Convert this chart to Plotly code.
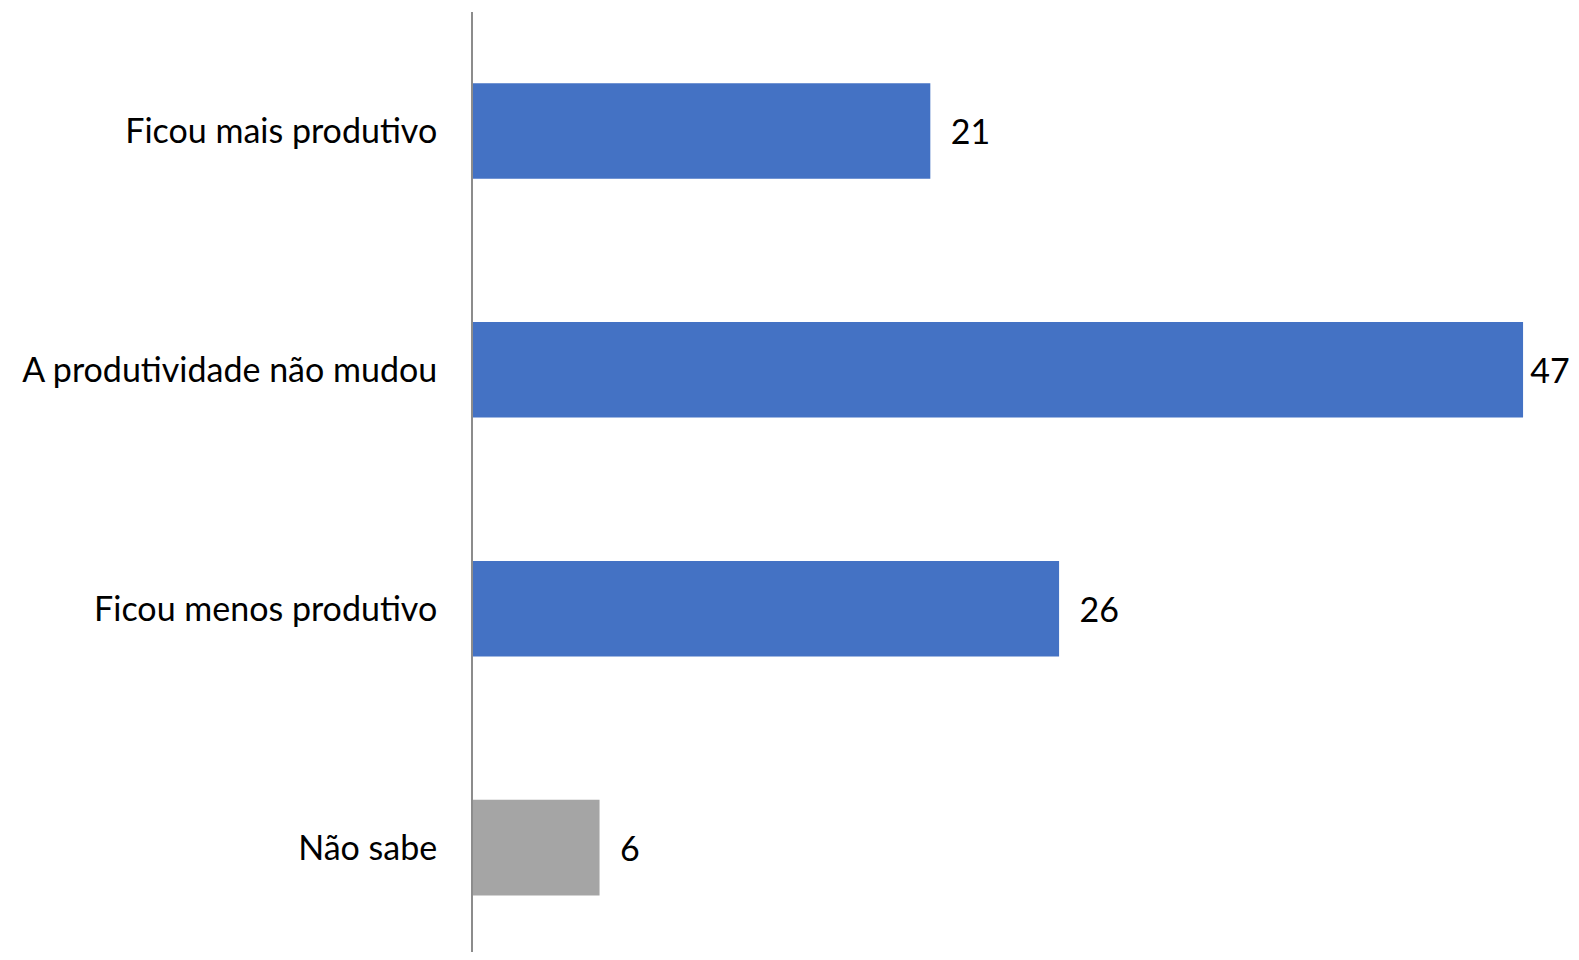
import plotly.graph_objects as go

categories = ["Ficou mais produtivo", "A produtividade não mudou", "Ficou menos produtivo", "Não sabe"]
values = [20.6, 47.3, 26.4, 5.7]
labels = ["21", "47", "26", "6"]
colors = ["#4472C4", "#4472C4", "#4472C4", "#A5A5A5"]

FONT = "Lato"
FS = 34

# keep the label of the longest bar close to it so it stays inside the page
max_v = max(values)
text = [("\u2009" if v == max_v else "\u00a0\u00a0") + t for v, t in zip(values, labels)]

fig = go.Figure(go.Bar(
    y=categories, x=values, orientation="h",
    marker=dict(color=colors, line=dict(width=0)),
    width=0.4,
    text=text,
    textposition="outside",
    textfont=dict(family=FONT, size=FS, color="#000000"),
    cliponaxis=False,
))

fig.update_layout(
    width=1563, height=944,
    margin=dict(l=465, r=0, t=4, b=0),
    plot_bgcolor="white", paper_bgcolor="white",
    showlegend=False,
    font=dict(family=FONT, size=FS, color="#000000"),
)
fig.update_xaxes(range=[0, 1098 / 22.2], visible=False, showgrid=False, zeroline=False)
fig.update_yaxes(
    range=[3.437, -0.498], showgrid=False, zeroline=False,
    showline=True, linecolor="#8C8C8C", linewidth=2,
    ticks="", ticklabelstandoff=27,
    tickfont=dict(family=FONT, size=FS, color="#000000"),
)

fig.write_html("out.html")
